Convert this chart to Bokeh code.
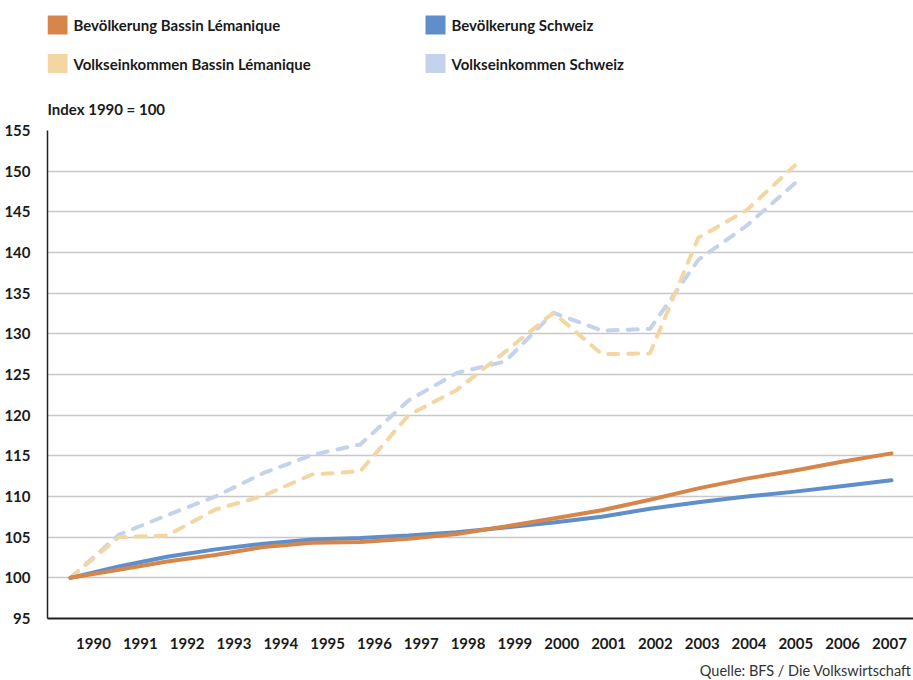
import numpy as np
from bokeh.plotting import figure
from bokeh.models import Range1d, LinearAxis, FixedTicker
from bokeh.layouts import column
from bokeh.embed import file_html
from bokeh.resources import INLINE
from bokeh.core.properties import value

nan = np.nan
years = list(range(1990, 2008))
bev_bl = [100.0, 101.0, 102.0, 102.8, 103.8, 104.3, 104.4, 104.8, 105.4, 106.3,
          107.3, 108.3, 109.6, 111.0, 112.2, 113.2, 114.3, 115.3]
bev_ch = [100.0, 101.4, 102.6, 103.5, 104.2, 104.7, 104.9, 105.2, 105.6, 106.2,
          106.8, 107.5, 108.5, 109.3, 110.0, 110.6, 111.3, 112.0]
ve_bl = [100.0, 105.0, 105.2, 108.4, 110.1, 112.7, 113.1, 120.0, 123.1, 127.8,
         132.6, 127.5, 127.6, 141.8, 145.2, 150.7, nan, nan]
ve_ch = [100.0, 105.3, 107.7, 110.0, 112.9, 115.1, 116.4, 121.8, 125.2, 126.6,
         132.6, 130.4, 130.6, 139.1, 143.3, 148.5, nan, nan]
y_ticks = list(range(95, 156, 5))

series_names = ["Bevölkerung Bassin Lémanique", "Bevölkerung Schweiz",
                "Volkseinkommen Bassin Lémanique", "Volkseinkommen Schweiz"]
colors = ["#d6864a", "#5f8fcb", "#f3d6a2", "#c5d2ec"]
y_title = "Index 1990 = 100"
source_text = "Quelle: BFS / Die Volkswirtschaft"

FONT = "Lato"
TXT = "#1a1a1a"
W = 913
H = 680
LEFT = 47
TOP_H = 121
BOT_H = 24


def blank(height, y0):
    f = figure(width=W, height=height, x_range=Range1d(LEFT, W),
               y_range=Range1d(y0 + height, y0),
               x_axis_location=None, y_axis_location=None, toolbar_location=None,
               output_backend="svg", min_border_left=LEFT, min_border_right=0,
               min_border_top=0, min_border_bottom=0, outline_line_color=None)
    f.grid.visible = False
    return f


# ---------- legend / header figure (frame aligned with chart frame) ----------
top = blank(TOP_H, 0)
col_x = [47, 425]
row_y = [24.5, 63]
for i, name in enumerate(series_names):
    cx = col_x[i % 2]
    cy = row_y[i // 2]
    top.rect(x=[cx + 10], y=[cy], width=20, height=19, fill_color=colors[i],
             line_color=None)
    top.text(x=[cx + 26], y=[cy], text=[name], text_font=value(FONT),
             text_font_style="bold", text_font_size="15px", text_color=TXT,
             text_baseline="alphabetic", text_align="left")
top.text(x=[47], y=[108.5], text=[y_title], text_font=value(FONT),
         text_font_style="bold", text_font_size="15px", text_color=TXT,
         text_baseline="alphabetic", text_align="left")

# ---------- chart figure ----------
p = figure(width=W, height=H - TOP_H - BOT_H, x_range=Range1d(1989.524, 2007.456),
           y_range=Range1d(95, 155), x_axis_location=None,
           toolbar_location=None, output_backend="svg",
           min_border_left=LEFT, min_border_right=0, min_border_top=130 - TOP_H,
           min_border_bottom=(H - BOT_H) - 618, outline_line_color=None)
p.xgrid.visible = False

p.extra_x_ranges = {"lab": Range1d(1989.0175, 2007.513)}
xax = LinearAxis(x_range_name="lab", ticker=FixedTicker(ticks=years))
xax.axis_line_color = "#222222"
xax.axis_line_width = 2
xax.major_tick_line_color = None
xax.minor_tick_line_color = None
xax.major_label_standoff = 13
xax.major_label_text_font = FONT
xax.major_label_text_font_style = "bold"
xax.major_label_text_font_size = "15px"
xax.major_label_text_color = TXT
p.add_layout(xax, "below")

yax = p.yaxis[0]
yax.ticker = FixedTicker(ticks=y_ticks)
yax.axis_line_color = "#222222"
yax.axis_line_width = 1.5
yax.major_tick_line_color = None
yax.minor_tick_line_color = None
yax.major_label_standoff = 11
yax.major_label_text_font = FONT
yax.major_label_text_font_style = "bold"
yax.major_label_text_font_size = "15px"
yax.major_label_text_color = TXT

p.ygrid.grid_line_color = "#c8c8c8"
p.ygrid.grid_line_width = 1.5

p.line(years, ve_ch, line_color=colors[3], line_width=4, line_dash="10 10",
       line_cap="round")
p.line(years, ve_bl, line_color=colors[2], line_width=4, line_dash="10 10",
       line_cap="round")
p.line(years, bev_ch, line_color=colors[1], line_width=4, line_cap="round")
p.line(years, bev_bl, line_color=colors[0], line_width=4, line_cap="round")

# ---------- source line ----------
bot = blank(BOT_H, H - BOT_H)
bot.text(x=[911], y=[670], text=[source_text], text_font=value(FONT),
         text_font_size="14.5px", text_color="#333333",
         text_baseline="alphabetic", text_align="right")

layout = column(top, p, bot, spacing=0)
open("out.html", "w").write(file_html(layout, INLINE))
